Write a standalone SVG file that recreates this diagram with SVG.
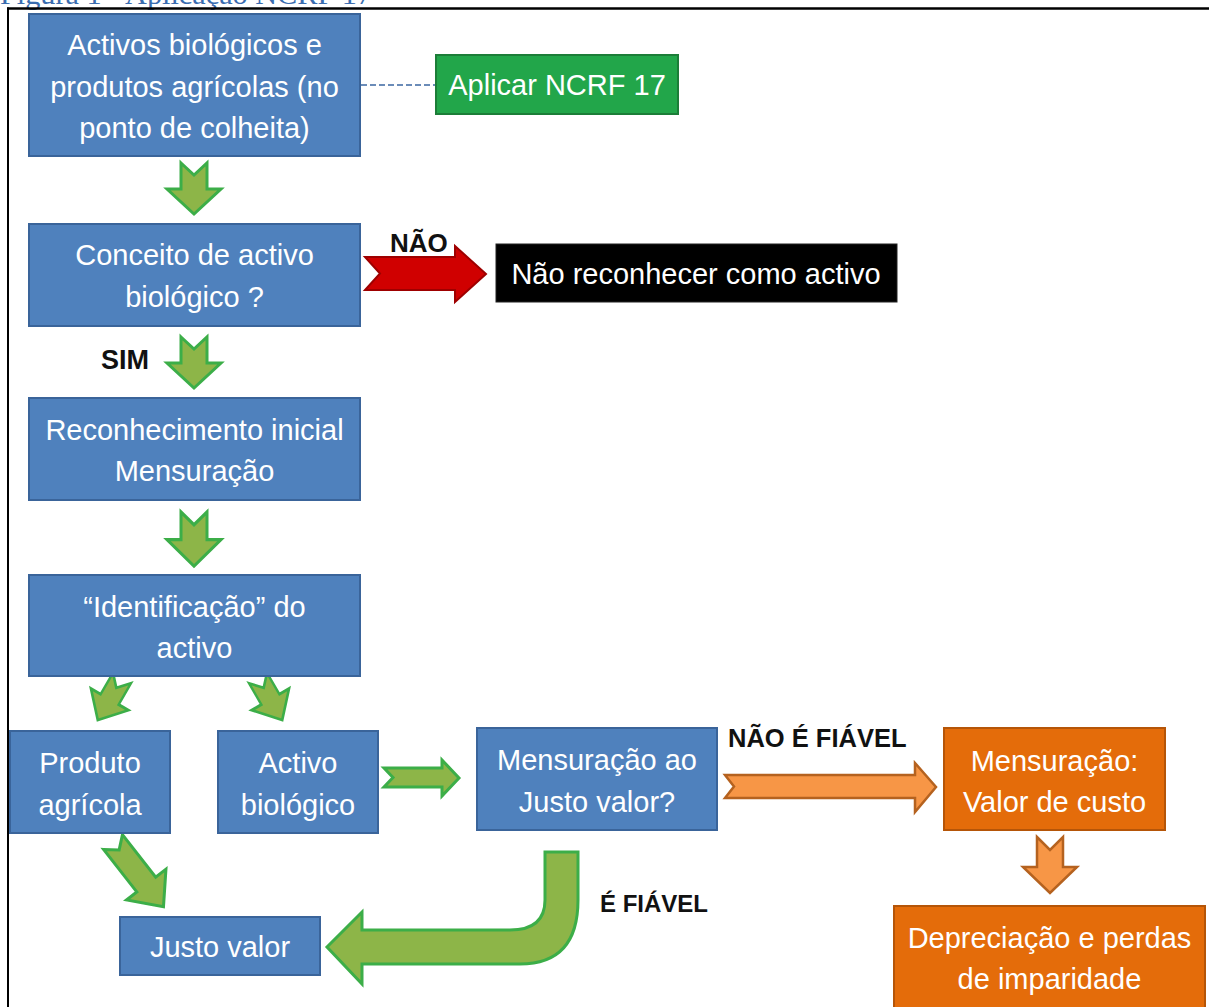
<svg xmlns="http://www.w3.org/2000/svg" width="1209" height="1007" viewBox="0 0 1209 1007">
<style>
.blue{fill:#4f81bd;stroke:#3a649a;stroke-width:2}
.green{fill:#22a64a;stroke:#1c7d38;stroke-width:2}
.orange{fill:#e46c0a;stroke:#b55508;stroke-width:2}
.black{fill:#000;stroke:#222;stroke-width:1}
.t{font-family:"Liberation Sans",Arial,sans-serif;font-size:29px;fill:#fff;text-anchor:middle}
.lbl{font-family:"Liberation Sans",Arial,sans-serif;font-size:26px;font-weight:bold;fill:#111}
.garr{fill:#8db548;stroke:#3cae48;stroke-width:3;stroke-linejoin:miter}
.oarr{fill:#f79646;stroke:#b5621f;stroke-width:2.5}
.rarr{fill:#d00000;stroke:#9e0000;stroke-width:2}
</style>
<defs>
<path id="down" d="M-13,0 L0,12 L13,0 L13,26 L27,26 L0,51 L-27,26 L-13,26 Z"/>
</defs>
<rect width="1209" height="1007" fill="#fff"/>
<text x="0" y="4" font-family="'Liberation Serif',serif" font-size="30" fill="#3a6db0" textLength="372" lengthAdjust="spacingAndGlyphs">Figura 1 - Aplicação NCRF 17</text>
<g id="frame" fill="none" stroke="#000">
<line x1="7" y1="8.5" x2="1209" y2="8.5" stroke-width="2.5"/>
<line x1="8" y1="7.5" x2="8" y2="1007" stroke-width="2"/>
</g>

<g id="connectors">
<line x1="361" y1="85" x2="436" y2="85" stroke="#6b8cb8" stroke-width="2" stroke-dasharray="6,3"/>
<use href="#down" class="garr" transform="translate(194,163)"/>
<use href="#down" class="garr" transform="translate(194,337)"/>
<use href="#down" class="garr" transform="translate(194,512) scale(1,1.06)"/>
<use href="#down" class="garr" transform="translate(122,678) rotate(30) scale(0.8,0.95)"/>
<use href="#down" class="garr" transform="translate(258,678) rotate(-30) scale(0.8,0.95)"/>
<path class="garr" transform="translate(113,842) rotate(-38)" d="M-12,0 L0,10 L12,0 L12,54 L25,54 L0,82 L-25,54 L-12,54 Z"/>
<path class="garr" d="M384,768 L442,768 L442,760 L459,778 L442,796 L442,787 L384,787 L393,777.5 Z"/>
<path class="garr" d="M545,852 L578,852 L578,900 Q578,964 520,964 L362,964 L362,984 L327,947 L362,912 L362,930 L510,930 Q545,930 545,900 Z"/>
<path class="rarr" d="M365,257 L455,257 L455,246 L486,274 L455,302 L455,290 L365,290 L380,273.5 Z"/>
<path class="oarr" d="M725,775 L915,775 L915,763 L936,787 L915,812 L915,798 L725,798 L734,786.5 Z"/>
<path class="oarr" d="M1037,837 L1050,850 L1063,837 L1063,867 L1077,867 L1050,893 L1023,867 L1037,867 Z"/>
<text class="lbl" x="390" y="252">NÃO</text>
<text class="lbl" x="101" y="369" style="font-size:27px">SIM</text>
<text class="lbl" x="728" y="747" style="font-size:25.5px">NÃO É FIÁVEL</text>
<text class="lbl" x="600" y="912" style="font-size:24px">É FIÁVEL</text>
</g>

<g id="n1"><rect class="blue" x="29" y="14" width="331" height="142"/>
<text class="t" x="194.5" y="55">Activos biológicos e</text>
<text class="t" x="194.5" y="97">produtos agrícolas (no</text>
<text class="t" x="194.5" y="138">ponto de colheita)</text></g>

<g id="n2"><rect class="green" x="436" y="55" width="242" height="59"/>
<text class="t" x="557" y="95">Aplicar NCRF 17</text></g>

<g id="n3"><rect class="blue" x="29" y="224" width="331" height="102"/>
<text class="t" x="194.5" y="265">Conceito de activo</text>
<text class="t" x="194.5" y="307">biológico ?</text></g>

<g id="n4"><rect class="black" x="496" y="244" width="401" height="58"/>
<text class="t" x="696" y="284">Não reconhecer como activo</text></g>

<g id="n5"><rect class="blue" x="29" y="398" width="331" height="102"/>
<text class="t" x="194.5" y="440">Reconhecimento inicial</text>
<text class="t" x="194.5" y="481">Mensuração</text></g>

<g id="n6"><rect class="blue" x="29" y="575" width="331" height="101"/>
<text class="t" x="194.5" y="617">“Identificação” do</text>
<text class="t" x="194.5" y="658">activo</text></g>

<g id="n7"><rect class="blue" x="10" y="731" width="160" height="102"/>
<text class="t" x="90" y="773">Produto</text>
<text class="t" x="90" y="815">agrícola</text></g>

<g id="n8"><rect class="blue" x="218" y="731" width="160" height="102"/>
<text class="t" x="298" y="773">Activo</text>
<text class="t" x="298" y="815">biológico</text></g>

<g id="n9"><rect class="blue" x="477" y="728" width="240" height="102"/>
<text class="t" x="597" y="770">Mensuração ao</text>
<text class="t" x="597" y="812">Justo valor?</text></g>

<g id="n10"><rect class="orange" x="944" y="728" width="221" height="102"/>
<text class="t" x="1054.5" y="771">Mensuração:</text>
<text class="t" x="1054.5" y="812">Valor de custo</text></g>

<g id="n11"><rect class="orange" x="894" y="906" width="311" height="110"/>
<text class="t" x="1049.5" y="948">Depreciação e perdas</text>
<text class="t" x="1049.5" y="989">de imparidade</text></g>

<g id="n12"><rect class="blue" x="120" y="917" width="200" height="58"/>
<text class="t" x="220" y="957">Justo valor</text></g>
</svg>
